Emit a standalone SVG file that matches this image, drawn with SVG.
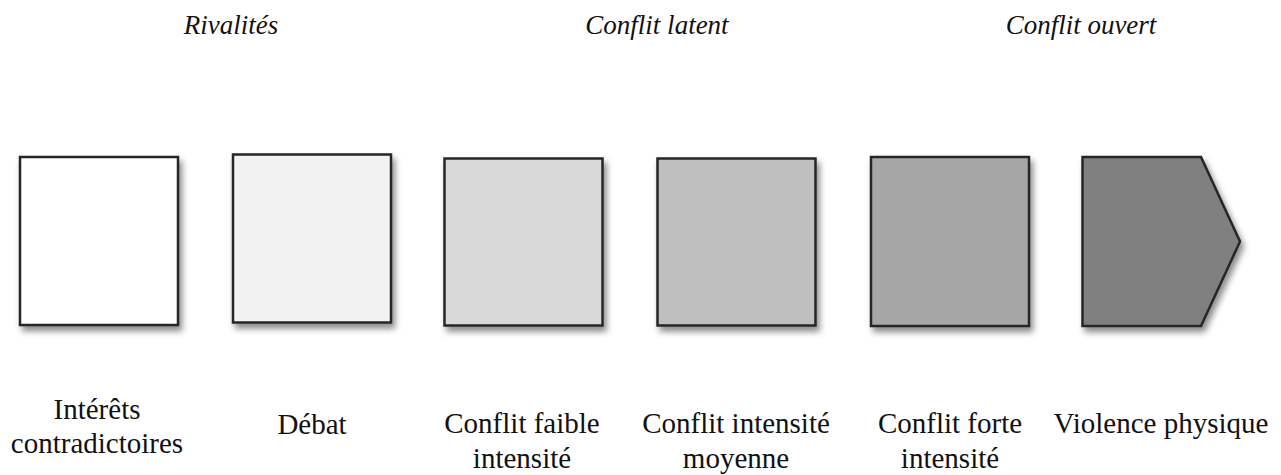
<svg xmlns="http://www.w3.org/2000/svg" width="1281" height="475" viewBox="0 0 1281 475">
<defs>
<filter id="sh" x="-10%" y="-10%" width="130%" height="130%">
<feDropShadow dx="3" dy="5" stdDeviation="3" flood-color="#000" flood-opacity="0.45"/>
</filter>
<style>
.box{stroke:#262626;stroke-width:2.5;filter:url(#sh);stroke-linejoin:miter}
.hd{font-family:'Liberation Serif','Times New Roman',serif;font-style:italic;font-size:27px;fill:#111;text-anchor:middle}
.lb{font-family:'Liberation Serif','Times New Roman',serif;font-size:29px;fill:#111;text-anchor:middle}
</style>
</defs>
<rect width="1281" height="475" fill="#fff"/>
<g id="headers">
<text class="hd" x="231" y="34">Rivalités</text>
<text class="hd" x="657" y="34">Conflit latent</text>
<text class="hd" x="1081" y="34">Conflit ouvert</text>
</g>
<g id="connectors"></g>
<g id="n1">
<rect class="box" x="20" y="157" width="158" height="168" fill="#ffffff"/>
<text class="lb" x="97" y="419">Intérêts</text>
<text class="lb" x="97" y="453">contradictoires</text>
</g>
<g id="n2">
<rect class="box" x="233" y="154.5" width="158" height="168" fill="#f2f2f2"/>
<text class="lb" x="312" y="434">Débat</text>
</g>
<g id="n3">
<rect class="box" x="444.5" y="158.5" width="158" height="167" fill="#d9d9d9"/>
<text class="lb" x="522" y="433">Conflit faible</text>
<text class="lb" x="522" y="468">intensité</text>
</g>
<g id="n4">
<rect class="box" x="657.5" y="158.5" width="158" height="167" fill="#bfbfbf"/>
<text class="lb" x="736" y="433">Conflit intensité</text>
<text class="lb" x="736" y="468">moyenne</text>
</g>
<g id="n5">
<rect class="box" x="871" y="157" width="158" height="169" fill="#a6a6a6"/>
<text class="lb" x="950" y="433">Conflit forte</text>
<text class="lb" x="950" y="468">intensité</text>
</g>
<g id="n6">
<polygon class="box" points="1082.5,157 1201,157 1240,241.5 1201,326 1082.5,326" fill="#808080"/>
<text class="lb" x="1161" y="433">Violence physique</text>
</g>
</svg>
